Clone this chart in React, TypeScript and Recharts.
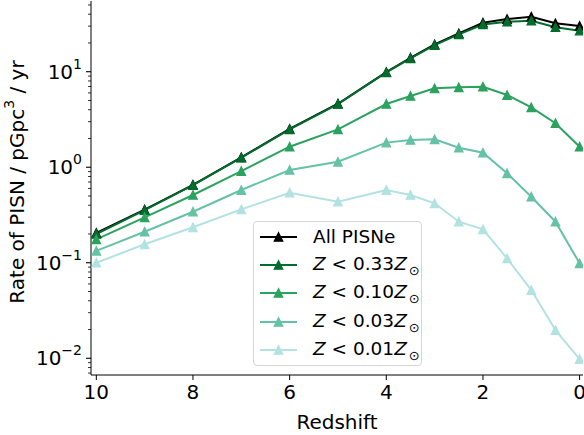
import React from "react";
import { LineChart, Line, XAxis, YAxis, Legend } from "recharts";

// ---- data ------------------------------------------------------------
const redshift = [10, 9, 8, 7, 6, 5, 4, 3.5, 3, 2.5, 2, 1.5, 1, 0.5, 0];
const allPisne = [0.205, 0.36, 0.655, 1.27, 2.52, 4.62, 9.9, 14.0, 19.3, 25.2, 32.6, 35.6, 37.7, 32.1, 30.1];
const z033 = [0.2, 0.355, 0.65, 1.26, 2.49, 4.59, 9.86, 13.8, 19.0, 24.6, 31.2, 33.4, 34.2, 29.2, 26.9];
const z010 = [0.176, 0.299, 0.512, 0.912, 1.64, 2.49, 4.59, 5.57, 6.7, 6.87, 6.97, 5.7, 4.24, 2.89, 1.64];
const z003 = [0.133, 0.211, 0.342, 0.577, 0.935, 1.14, 1.81, 1.93, 1.96, 1.6, 1.42, 0.863, 0.491, 0.269, 0.0986];
const z001 = [0.1, 0.156, 0.235, 0.362, 0.541, 0.436, 0.577, 0.512, 0.419, 0.269, 0.224, 0.111, 0.0518, 0.0197, 0.0098];

const xTicks = [0, 2, 4, 6, 8, 10];
const yMajor = [0.01, 0.1, 1, 10];

const series = [
  { key: "all", name: "All PISNe", frac: "", color: "#000000" },
  { key: "z033", name: "Z<0.33Z", frac: "0.33", color: "#006d2c" },
  { key: "z010", name: "Z<0.10Z", frac: "0.10", color: "#2ca25f" },
  { key: "z003", name: "Z<0.03Z", frac: "0.03", color: "#66c2a4" },
  { key: "z001", name: "Z<0.01Z", frac: "0.01", color: "#b2e2e2" },
];

const data = redshift.map((z, i) => ({
  z,
  all: allPisne[i],
  z033: z033[i],
  z010: z010[i],
  z003: z003[i],
  z001: z001[i],
}));

// minor log ticks (2..9 per decade) plus the majors
const yTicks: number[] = [];
[0.001, 0.01, 0.1, 1, 10].forEach((d) => {
  for (let m = 1; m < 10; m++) {
    const v = +(d * m).toPrecision(3);
    if (v >= 0.00668 && v <= 55) yTicks.push(v);
  }
});

const FONT = "DejaVu Sans";

function tri(color: string, h = 4.2) {
  return (props: any) => {
    const { cx, cy, index } = props;
    if (cx == null || cy == null) return <g key={index} />;
    return (
      <path
        key={index}
        d={`M${cx},${cy - h}L${cx - h},${cy + h}L${cx + h},${cy + h}Z`}
        fill={color}
        stroke={color}
        strokeWidth={1.3}
      />
    );
  };
}

function LogTick(props: any) {
  const { x, y, payload } = props;
  const lg = Math.log10(payload.value);
  const exp = Math.round(lg);
  const major = Math.abs(lg - exp) < 1e-6;
  return (
    <g>
      <line x1={x - (major ? 5 : 3)} x2={x} y1={y} y2={y} stroke="#000" strokeWidth={major ? 1.1 : 0.8} />
      {major && (
        <text x={x - 9} y={y + 7} textAnchor="end" fontSize={20} fill="#000" fontFamily={FONT}>
          10
          <tspan dy={-10} fontSize={14}>
            {exp < 0 ? "\u2212" + -exp : String(exp)}
          </tspan>
        </text>
      )}
    </g>
  );
}

function YLabel(props: any) {
  const vb = props.viewBox || { x: 0, y: 0, width: 0, height: 0 };
  const cx = vb.x + 17;
  const cy = vb.y + vb.height / 2 - 6;
  return (
    <text
      x={cx}
      y={cy}
      transform={`rotate(-90, ${cx}, ${cy})`}
      textAnchor="middle"
      dominantBaseline="central"
      fontSize={20}
      fill="#000"
      fontFamily={FONT}
    >
      Rate of PISN / pGpc
      <tspan dy={-8} fontSize={14}>3</tspan>
      <tspan dy={8}> / yr</tspan>
    </text>
  );
}

function LegendBox() {
  return (
    <div
      style={{
        border: "1px solid #d5d5d5",
        borderRadius: 4,
        background: "rgba(255,255,255,0.8)",
        width: 169,
        height: 145,
        boxSizing: "border-box",
        fontFamily: FONT,
        fontSize: 18.5,
        color: "#000",
        paddingTop: 1,
      }}
    >
      {series.map((s) => (
        <div key={s.key} style={{ display: "flex", alignItems: "center", height: 28.2 }}>
          <svg width={59} height={28} style={{ flex: "none" }}>
            <line x1={6} x2={43} y1={14} y2={14} stroke={s.color} strokeWidth={2} />
            <path d="M24.5,9.8L20.3,18.2L28.7,18.2Z" fill={s.color} stroke={s.color} strokeWidth={1.3} />
          </svg>
          <span style={{ whiteSpace: "nowrap", lineHeight: "28px" }}>
            {s.frac === "" ? (
              s.name
            ) : (
              <>
                <i>Z</i> &lt; {s.frac}
                <i>Z</i>
                <span style={{ fontSize: 13, position: "relative", top: 5, marginLeft: 2 }}>{"\u2299"}</span>
              </>
            )}
          </span>
        </div>
      ))}
    </div>
  );
}

export default function App() {
  return (
    <div style={{ position: "absolute", left: 0, top: 0, background: "#fff" }}>
      <LineChart width={584} height={435} data={data} margin={{ top: 1, right: 1, bottom: 0, left: 0 }}>
        <XAxis
          type="number"
          dataKey="z"
          domain={[-0.07, 10.11]}
          reversed
          allowDataOverflow
          ticks={xTicks}
          interval={0}
          tickSize={5}
          tickMargin={5}
          stroke="#000"
          tick={{ fill: "#000", fontSize: 20, fontFamily: FONT }}
          height={60}
          label={{ value: "Redshift", position: "insideBottom", offset: 6, fill: "#000", fontSize: 20, fontFamily: FONT }}
        />
        <XAxis xAxisId="top" orientation="top" type="number" domain={[0, 1]} height={0} tick={false} tickLine={false} stroke="#000" />
        <YAxis
          scale="log"
          domain={[0.00668, 55]}
          allowDataOverflow
          ticks={yTicks}
          interval={0}
          width={91}
          tickSize={0}
          tickMargin={0}
          tickLine={false}
          tick={<LogTick />}
          stroke="#000"
          label={<YLabel />}
        />
        <YAxis yAxisId="right" orientation="right" domain={[0, 1]} width={0} tick={false} tickLine={false} stroke="#000" />
        {series.map((s) => (
          <Line
            key={s.key}
            dataKey={s.key}
            name={s.name}
            stroke={s.color}
            strokeWidth={2}
            dot={tri(s.color)}
            activeDot={false}
            isAnimationActive={false}
          />
        ))}
        <Legend
          content={<LegendBox />}
          layout="vertical"
          align="center"
          verticalAlign="middle"
          wrapperStyle={{ left: 253, top: 221, width: 169 }}
        />
      </LineChart>
    </div>
  );
}
